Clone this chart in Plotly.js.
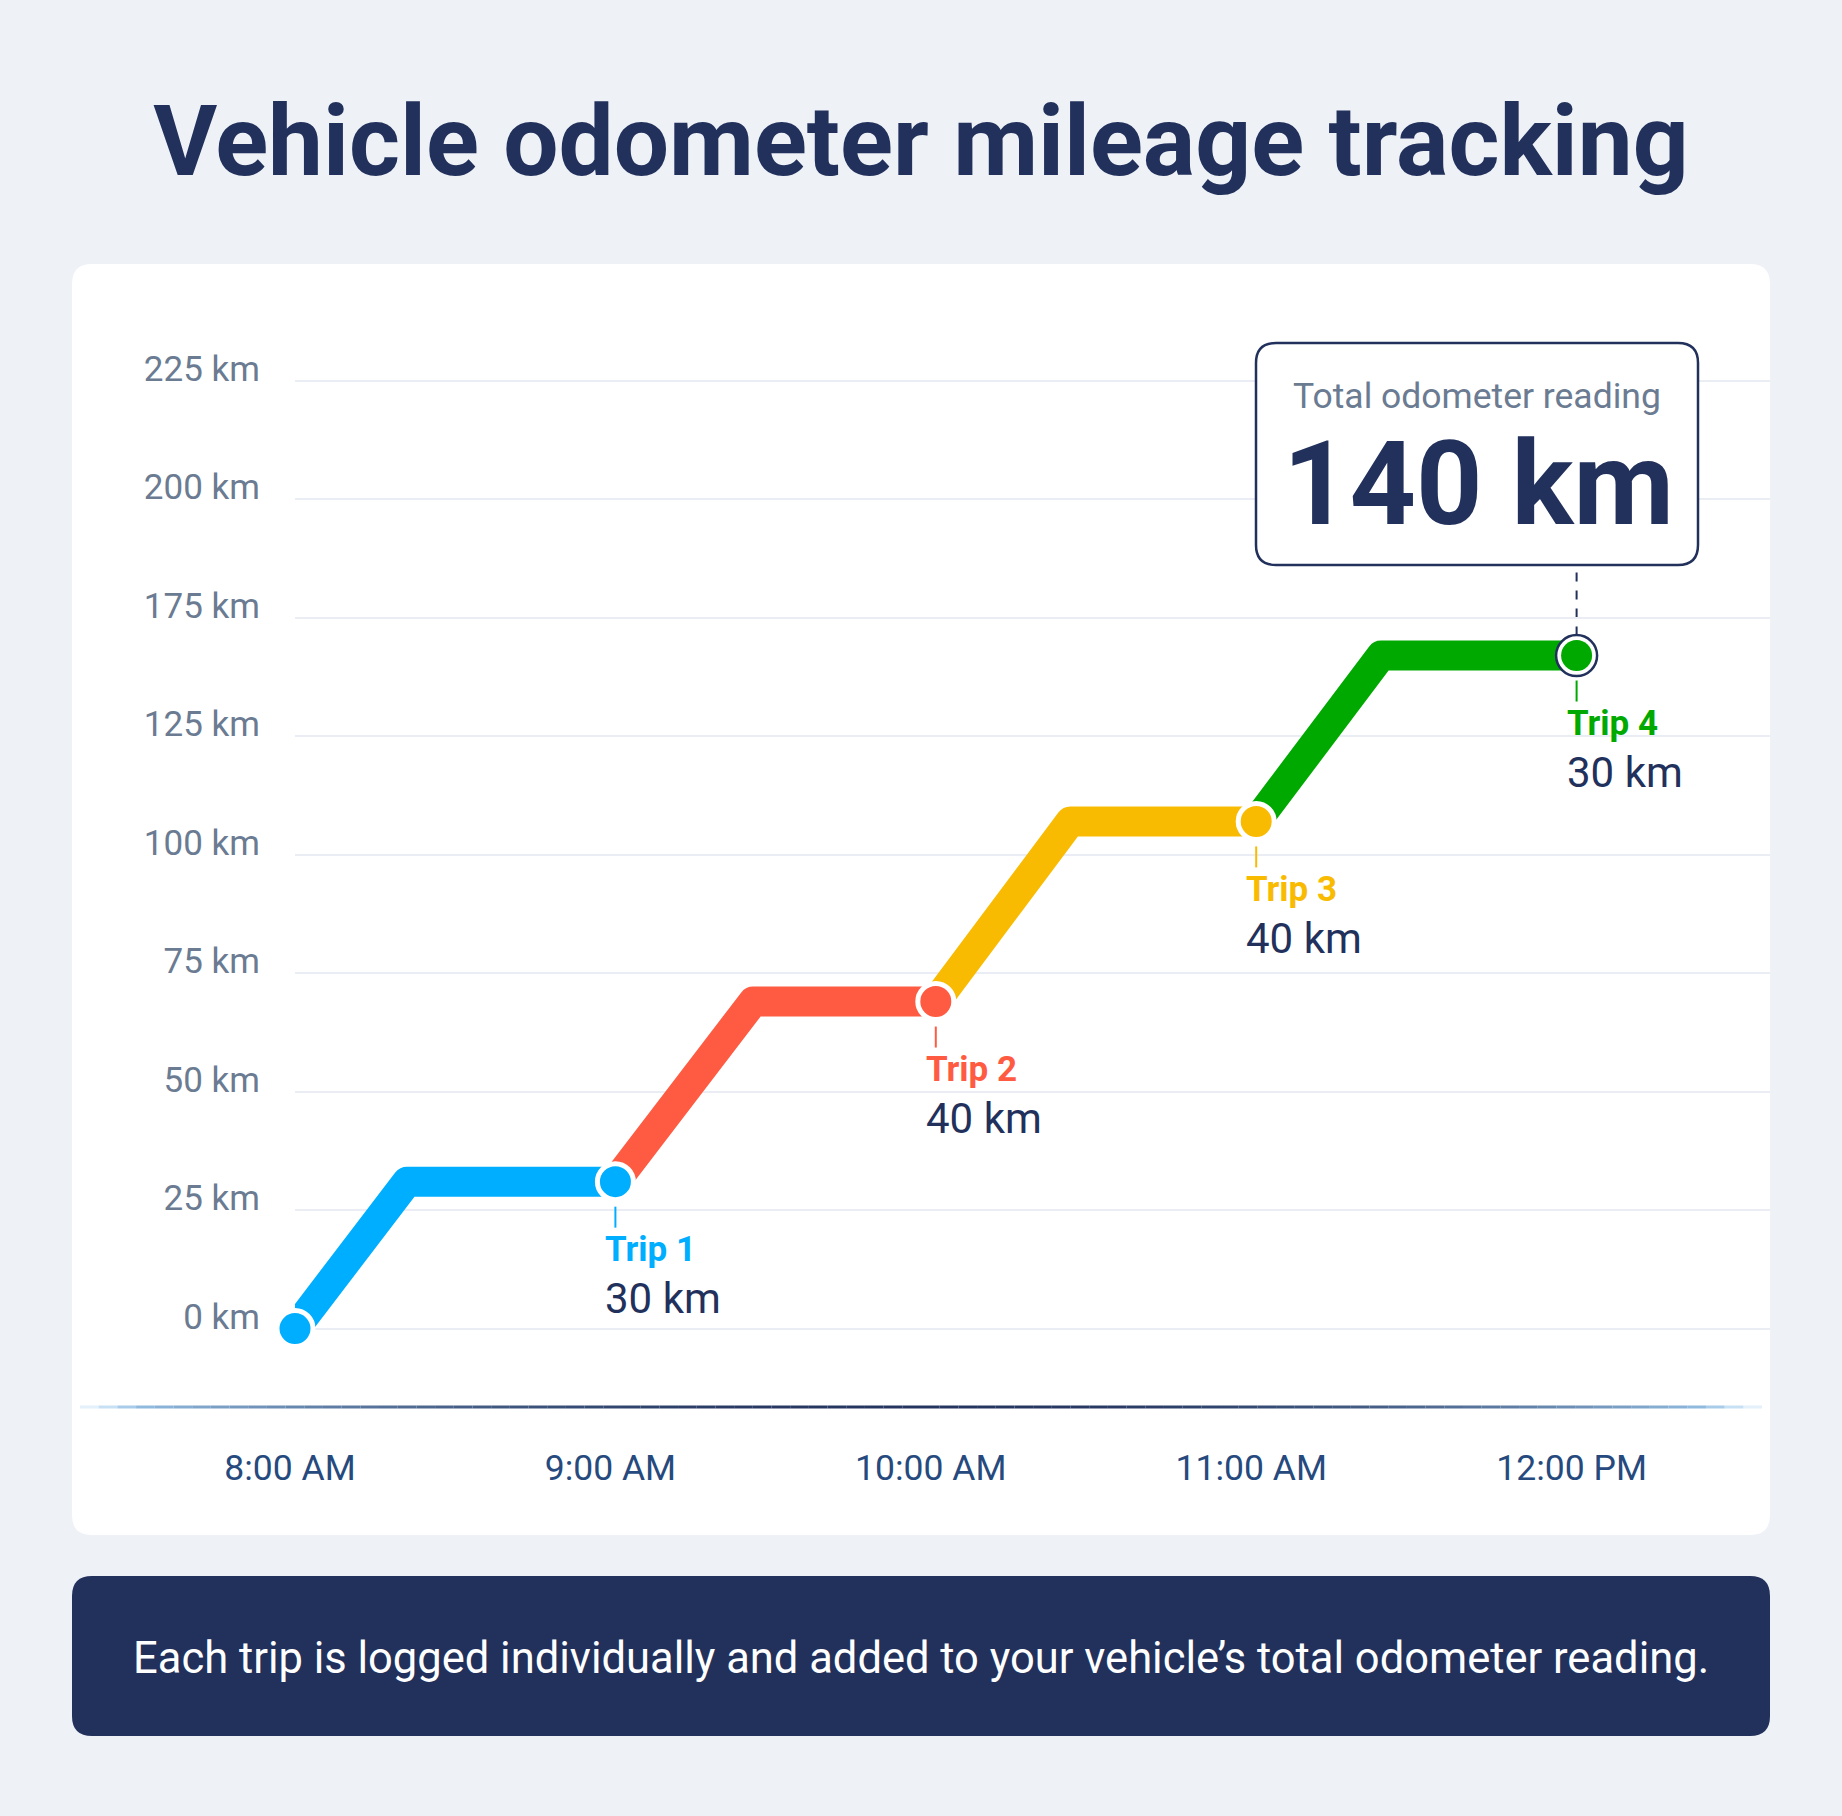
<!DOCTYPE html>
<html>
<head>
<meta charset="utf-8">
<script src="https://cdn.plot.ly/plotly-3.0.1.min.js"></script>
<style>
  html, body { margin: 0; padding: 0; background: #eef1f6; }
  #chart { width: 1842px; height: 1816px; }
  .scatterlayer .js-line { stroke-linejoin: round !important; }
</style>
</head>
<body>
<div id="chart"></div>
<script>
// ---------------- data ----------------
const timeTickHours = [8, 9, 10, 11, 12];
const timeTickLabels = ['8:00 AM', '9:00 AM', '10:00 AM', '11:00 AM', '12:00 PM'];
const yTickVals = [0, 25, 50, 75, 100, 125, 150, 175, 200];
const yTickLabels = ['0 km', '25 km', '50 km', '75 km', '100 km', '125 km', '175 km', '200 km', '225 km'];

const tripNames = ['Trip 1', 'Trip 2', 'Trip 3', 'Trip 4'];
const tripDistanceLabels = ['30 km', '40 km', '40 km', '30 km'];
const tripStartHour = [8, 9, 10, 11];
const tripArriveHour = [8.35, 9.43, 10.42, 11.39];   // end of driving (knee)
const tripLogHour = [9, 10, 11, 12];                   // logged point
const startOdometer = 0;
const tripOdometer = [31, 69, 107, 142];               // cumulative reading as drawn
const tripColors = ['#00aeff', '#ff5b42', '#f9bb02', '#00a900'];
const totalLabel = 'Total odometer reading';
const totalValue = '140 km';

// ---------------- geometry helpers ----------------
const W = 1842, H = 1816;
const M = { l: 295, r: 72, t: 300, b: 409 };
const PW = W - M.l - M.r, PH = H - M.t - M.b;
const PX = px => (px - M.l) / PW;
const PY = py => (H - M.b - py) / PH;
const pxPerHour = 320.4, pxPerKm = 4.74, zeroY = 1328.6;
const xRange = [8, 8 + PW / pxPerHour];
const yRange = [-(H - M.b - zeroY) / pxPerKm, (zeroY - M.t) / pxPerKm];

function roundRect(x0, y0, x1, y1, r) {
  const p = (x, y) => PX(x).toFixed(5) + ',' + PY(y).toFixed(5);
  return 'M' + p(x0 + r, y0) + ' L' + p(x1 - r, y0) + ' Q' + p(x1, y0) + ' ' + p(x1, y0 + r) +
    ' L' + p(x1, y1 - r) + ' Q' + p(x1, y1) + ' ' + p(x1 - r, y1) +
    ' L' + p(x0 + r, y1) + ' Q' + p(x0, y1) + ' ' + p(x0, y1 - r) +
    ' L' + p(x0, y0 + r) + ' Q' + p(x0, y0) + ' ' + p(x0 + r, y0) + ' Z';
}

const NAVY = '#22315c';
const FONT = 'Roboto, "Noto Sans", sans-serif';

// ---------------- traces ----------------
const traces = [];
for (let i = 0; i < tripNames.length; i++) {
  const prev = i === 0 ? startOdometer : tripOdometer[i - 1];
  traces.push({
    type: 'scatter', mode: 'lines', cliponaxis: false, hoverinfo: 'skip', showlegend: false,
    x: [tripStartHour[i], tripArriveHour[i], tripLogHour[i]],
    y: [prev, tripOdometer[i], tripOdometer[i]],
    line: { color: tripColors[i], width: 30 }
  });
}
// markers (start + trips 1-3)
const mX = [tripStartHour[0]].concat(tripLogHour.slice(0, 3));
const mY = [startOdometer].concat(tripOdometer.slice(0, 3));
const mC = [tripColors[0]].concat(tripColors.slice(0, 3));
traces.push({
  type: 'scatter', mode: 'markers', cliponaxis: false, hoverinfo: 'skip', showlegend: false,
  x: mX, y: mY,
  marker: { size: 36, color: mC, line: { color: '#ffffff', width: 5 } }
});
// final highlighted marker
const last = tripNames.length - 1;
traces.push({
  type: 'scatter', mode: 'markers', cliponaxis: false, hoverinfo: 'skip', showlegend: false,
  x: [tripLogHour[last]], y: [tripOdometer[last]],
  marker: { size: 41, color: '#ffffff', line: { color: NAVY, width: 2.5 } }
});
traces.push({
  type: 'scatter', mode: 'markers', cliponaxis: false, hoverinfo: 'skip', showlegend: false,
  x: [tripLogHour[last]], y: [tripOdometer[last]],
  marker: { size: 31, color: tripColors[last], line: { width: 0 } }
});

// ---------------- shapes ----------------
const shapes = [];
shapes.push({ type: 'path', xref: 'paper', yref: 'paper', layer: 'below',
  path: roundRect(72, 264, 1770, 1535, 20), fillcolor: '#ffffff', line: { width: 0 } });
shapes.push({ type: 'path', xref: 'paper', yref: 'paper', layer: 'below',
  path: roundRect(72, 1576, 1770, 1736, 20), fillcolor: NAVY, line: { width: 0 } });

// gradient baseline
function hex2rgb(h) { return [1, 3, 5].map(i => parseInt(h.slice(i, i + 2), 16)); }
const cDark = hex2rgb('#24355f'), cLight = hex2rgb('#a5d3f7');
const gx0 = 80, gx1 = 1762, gN = 90;
for (let k = 0; k < gN; k++) {
  const t = (k + 0.5) / gN;
  const d = Math.abs(t - 0.5) * 2;
  const f = Math.pow(d, 2.2);
  const c = cDark.map((v, j) => Math.round(v + (cLight[j] - v) * f));
  const op = d > 0.93 ? Math.max(0.15, 1 - (d - 0.93) / 0.07 * 0.85) : 1;
  shapes.push({ type: 'line', xref: 'paper', yref: 'paper', layer: 'below',
    x0: PX(gx0 + (gx1 - gx0) * k / gN), x1: PX(gx0 + (gx1 - gx0) * (k + 1) / gN),
    y0: PY(1407), y1: PY(1407), opacity: op,
    line: { color: 'rgb(' + c.join(',') + ')', width: 3 } });
}

// small ticks under markers
for (let i = 0; i < tripNames.length; i++) {
  shapes.push({ type: 'line', xref: 'x', yref: 'y', ysizemode: 'pixel', layer: 'above',
    x0: tripLogHour[i], x1: tripLogHour[i], yanchor: tripOdometer[i], y0: -25, y1: -46,
    line: { color: tripColors[i], width: 2 } });
}
// dashed connector to total box
shapes.push({ type: 'line', xref: 'x', yref: 'y', ysizemode: 'pixel', layer: 'below',
  x0: tripLogHour[last], x1: tripLogHour[last], yanchor: tripOdometer[last], y0: 20, y1: 89,
  line: { color: NAVY, width: 2, dash: 'dash' } });
// total box
shapes.push({ type: 'path', xref: 'paper', yref: 'paper', layer: 'above',
  path: roundRect(1256, 343, 1698, 565, 20), fillcolor: '#ffffff', line: { color: NAVY, width: 2.5 } });

// ---------------- annotations ----------------
const annotations = [];
for (let i = 0; i < tripNames.length; i++) {
  annotations.push({ x: tripLogHour[i], y: tripOdometer[i], xref: 'x', yref: 'y',
    text: tripNames[i], showarrow: false, xanchor: 'left', yanchor: 'middle', xshift: -12, yshift: -68,
    font: { family: FONT, size: 35, color: tripColors[i], weight: 700 } });
  annotations.push({ x: tripLogHour[i], y: tripOdometer[i], xref: 'x', yref: 'y',
    text: tripDistanceLabels[i], showarrow: false, xanchor: 'left', yanchor: 'middle', xshift: -12, yshift: -117,
    font: { family: FONT, size: 42, color: NAVY } });
}
annotations.push({ xref: 'paper', yref: 'paper', x: PX(1477), y: PY(396), text: totalLabel,
  showarrow: false, xanchor: 'center', yanchor: 'middle',
  font: { family: FONT, size: 35.5, color: '#6a7b92' } });
annotations.push({ xref: 'paper', yref: 'paper', x: PX(1478), y: PY(484), text: totalValue,
  showarrow: false, xanchor: 'center', yanchor: 'middle',
  font: { family: FONT, size: 116, color: NAVY, weight: 700 } });
annotations.push({ xref: 'paper', yref: 'paper', x: PX(921), y: PY(1658),
  text: 'Each trip is logged individually and added to your vehicle’s total odometer reading.',
  showarrow: false, xanchor: 'center', yanchor: 'middle',
  font: { family: FONT, size: 43.5, color: '#ffffff' } });

// ---------------- layout ----------------
const layout = {
  width: W, height: H,
  margin: M,
  paper_bgcolor: '#eef1f6',
  plot_bgcolor: 'rgba(0,0,0,0)',
  showlegend: false,
  title: { text: 'Vehicle odometer mileage tracking', x: 0.5, xanchor: 'center',
    y: 1 - 141 / H, yanchor: 'middle', yref: 'container',
    font: { family: FONT, size: 98, color: NAVY, weight: 700 } },
  xaxis: { range: xRange, showgrid: false, zeroline: false, showline: false,
    tickmode: 'array', tickvals: timeTickHours, ticktext: timeTickLabels, ticks: '',
    ticklabelstandoff: 36, ticklabelshift: -5,
    tickfont: { family: FONT, size: 35.5, color: '#264a7d' }, fixedrange: true },
  yaxis: { range: yRange, showgrid: true, gridcolor: '#eaedf3', gridwidth: 2, zeroline: false, showline: false,
    tickmode: 'array', tickvals: yTickVals, ticktext: yTickLabels, ticks: '',
    ticklabelstandoff: 34, ticklabelshift: -12, tickfont: { family: FONT, size: 35, color: '#6a7b92' }, fixedrange: true },
  shapes: shapes,
  annotations: annotations
};

Plotly.newPlot('chart', traces, layout, { displayModeBar: false, staticPlot: true });
</script>
</body>
</html>
